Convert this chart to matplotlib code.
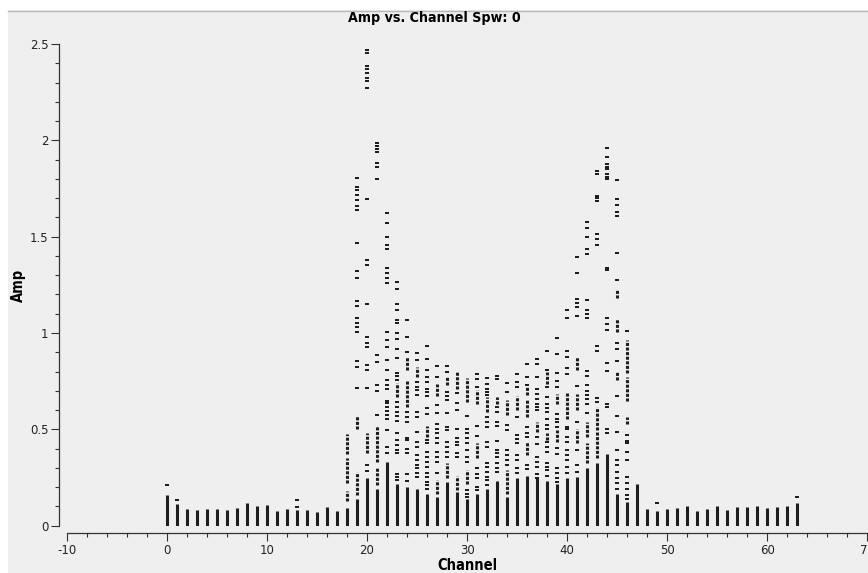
import matplotlib
matplotlib.use("Agg")  # headless backend
import matplotlib.pyplot as plt
from matplotlib.lines import Line2D
from matplotlib.patches import Rectangle
from matplotlib.ticker import MultipleLocator, FormatStrFormatter

plt.rcParams["axes.unicode_minus"] = False

# Channel axis
channels = list(range(64))

# Top of the solid (densely packed) column of amplitudes in every channel
solid_top = [
    0.158, 0.112, 0.086, 0.080, 0.086, 0.086, 0.080, 0.091, 0.120, 0.101,
    0.106, 0.075, 0.086, 0.080, 0.080, 0.070, 0.096, 0.075, 0.091, 0.136,
    0.245, 0.190, 0.330, 0.219, 0.202, 0.188, 0.167, 0.150, 0.228, 0.176,
    0.141, 0.167, 0.193, 0.233, 0.150, 0.250, 0.257, 0.245, 0.233, 0.219,
    0.250, 0.254, 0.302, 0.326, 0.370, 0.167, 0.124, 0.215, 0.087, 0.075,
    0.086, 0.091, 0.101, 0.075, 0.086, 0.101, 0.080, 0.096, 0.096, 0.101,
    0.091, 0.096, 0.101, 0.119,
]

# Amplitude ranges that are packed tightly but not solid (drawn as dashed runs)
dense_runs = {
    18: [(0.13, 0.18), (0.22, 0.35), (0.37, 0.475)],
    19: [(0.16, 0.28), (0.50, 0.57)],
    20: [(0.375, 0.48)],
    21: [(0.21, 0.30), (0.33, 0.52)],
    23: [(0.67, 0.74)],
    24: [(0.617, 0.755), (0.807, 0.877)],
    25: [(0.773, 0.825)],
    26: [(0.46, 0.52)],
    27: [(0.167, 0.236), (0.672, 0.738)],
    28: [(0.245, 0.323), (0.73, 0.773)],
    29: [(0.184, 0.257), (0.712, 0.80)],
    30: [(0.219, 0.288), (0.643, 0.764)],
    31: [(0.349, 0.427), (0.634, 0.703)],
    32: [(0.59, 0.669)],
    33: [(0.634, 0.669)],
    34: [(0.167, 0.288), (0.574, 0.652)],
    35: [(0.60, 0.672)],
    36: [(0.366, 0.435), (0.565, 0.652), (0.678, 0.72)],
    37: [(0.487, 0.54)],
    38: [(0.444, 0.479), (0.738, 0.799)],
    39: [(0.435, 0.496), (0.634, 0.686)],
    40: [(0.556, 0.695)],
    41: [(0.427, 0.504), (0.60, 0.686), (0.807, 0.873)],
    42: [(0.323, 0.427), (0.461, 0.54)],
    43: [(0.349, 0.484), (0.496, 0.617)],
    45: [(0.755, 0.804), (1.006, 1.071), (1.18, 1.226)],
    46: [(0.527, 0.565), (0.648, 0.773), (0.79, 0.966)],
}

# Isolated amplitudes above the solid column
scatter_amp = {
    0: [0.212],
    1: [0.132],
    13: [0.098, 0.132],
    19: [0.717, 0.825, 0.856, 1.006, 1.03, 1.05, 1.076, 1.14, 1.167, 1.284,
         1.32, 1.465, 1.641, 1.658, 1.69, 1.715, 1.74, 1.76, 1.803],
    20: [0.283, 0.314, 0.717, 0.807, 0.833, 0.925, 0.95, 0.98, 1.15, 1.353,
         1.379, 1.698, 2.27, 2.31, 2.322, 2.352, 2.369, 2.386, 2.451, 2.468],
    21: [0.574, 0.70, 0.73, 0.85, 0.885, 1.80, 1.864, 1.881, 1.941, 1.955,
         1.97, 1.984],
    22: [0.378, 0.41, 0.496, 0.556, 0.576, 0.596, 0.616, 0.636, 0.646, 0.707,
         0.73, 0.755, 0.81, 0.86, 0.93, 0.963, 1.006, 1.26, 1.284, 1.309,
         1.335, 1.434, 1.457, 1.50, 1.569, 1.624],
    23: [0.236, 0.255, 0.27, 0.378, 0.392, 0.418, 0.444, 0.482, 0.544, 0.568,
         0.59, 0.617, 0.643, 0.755, 0.775, 0.793, 0.868, 0.915, 0.967, 1.0,
         1.05, 1.07, 1.12, 1.15, 1.226, 1.266],
    24: [0.233, 0.27, 0.375, 0.40, 0.444, 0.453, 0.54, 0.565, 0.59, 0.903,
         0.977, 1.067],
    25: [0.254, 0.274, 0.297, 0.314, 0.34, 0.366, 0.41, 0.435, 0.484, 0.565,
         0.59, 0.678, 0.703, 0.72, 0.747, 0.86, 0.894],
    26: [0.193, 0.21, 0.228, 0.254, 0.274, 0.305, 0.331, 0.357, 0.384, 0.427,
         0.444, 0.58, 0.613, 0.672, 0.695, 0.712, 0.747, 0.773, 0.807, 0.863,
         0.932],
    27: [0.274, 0.331, 0.357, 0.384, 0.427, 0.453, 0.479, 0.504, 0.53, 0.586,
         0.629, 0.77, 0.828],
    28: [0.357, 0.384, 0.41, 0.435, 0.496, 0.513, 0.586, 0.652, 0.672, 0.695,
         0.799, 0.828],
    29: [0.357, 0.375, 0.418, 0.435, 0.453, 0.50, 0.603, 0.635, 0.69],
    30: [0.15, 0.167, 0.184, 0.331, 0.357, 0.392, 0.427, 0.453, 0.479, 0.504,
         0.568],
    31: [0.184, 0.202, 0.245, 0.27, 0.297, 0.465, 0.516, 0.72, 0.76, 0.787],
    32: [0.21, 0.236, 0.254, 0.28, 0.305, 0.326, 0.41, 0.435, 0.513, 0.54,
         0.565, 0.678, 0.695, 0.712, 0.738, 0.764],
    33: [0.28, 0.30, 0.326, 0.357, 0.375, 0.395, 0.44, 0.516, 0.54, 0.59,
         0.617, 0.76, 0.776],
    34: [0.314, 0.34, 0.366, 0.395, 0.496, 0.522, 0.695, 0.742],
    35: [0.271, 0.297, 0.34, 0.366, 0.427, 0.45, 0.47, 0.565, 0.72, 0.747,
         0.787],
    36: [0.292, 0.314, 0.461, 0.482, 0.513, 0.73, 0.773, 0.837],
    37: [0.25, 0.267, 0.305, 0.33, 0.354, 0.423, 0.461, 0.60, 0.617, 0.634,
         0.66, 0.686, 0.712, 0.773, 0.838, 0.863],
    38: [0.257, 0.288, 0.305, 0.323, 0.384, 0.41, 0.435, 0.504, 0.522, 0.556,
         0.59, 0.61, 0.631, 0.669, 0.72, 0.81, 0.907],
    39: [0.228, 0.25, 0.275, 0.297, 0.371, 0.401, 0.513, 0.54, 0.556, 0.579,
         0.72, 0.75, 0.79, 0.89, 0.972],
    40: [0.271, 0.305, 0.34, 0.365, 0.392, 0.435, 0.461, 0.50, 0.513, 0.787,
         0.821, 0.877, 0.907, 1.076, 1.12],
    41: [0.28, 0.314, 0.392, 0.54, 0.724, 1.088, 1.133, 1.155, 1.175, 1.31,
         1.396],
    42: [0.586, 0.634, 0.66, 0.68, 0.70, 0.73, 0.776, 0.804, 1.076, 1.10,
         1.122, 1.171, 1.41, 1.436, 1.496, 1.546, 1.578],
    43: [0.643, 0.665, 0.907, 0.932, 1.455, 1.486, 1.512, 1.685, 1.70, 1.712,
         1.825, 1.842],
    44: [0.482, 0.504, 0.617, 0.631, 0.802, 0.846, 1.015, 1.046, 1.076, 1.327,
         1.34, 1.797, 1.81, 1.825, 1.85, 1.862, 1.875, 1.913, 1.958],
    45: [0.193, 0.222, 0.245, 0.28, 0.314, 0.34, 0.395, 0.487, 0.568, 0.672,
         0.856, 0.915, 0.949, 1.275, 1.416, 1.607, 1.63, 1.664, 1.697, 1.792],
    46: [0.141, 0.158, 0.188, 0.222, 0.254, 0.34, 0.384, 0.427, 0.44, 0.47,
         1.011],
    49: [0.119],
    63: [0.15],
}

ink = "#1e1e1e"
panel = "#efefef"

fig = plt.figure(figsize=(8.68, 5.73), dpi=100, facecolor=panel)
# white margin along the top and left edges, thin rule under the top one
fig.patches.append(Rectangle((0, 1 - 10 / 573), 1, 10 / 573, transform=fig.transFigure,
                             facecolor="white", edgecolor="none", zorder=0))
fig.patches.append(Rectangle((0, 0), 8 / 868, 1, transform=fig.transFigure,
                             facecolor="white", edgecolor="none", zorder=0))
fig.lines.append(Line2D([8 / 868, 1], [1 - 10.5 / 573] * 2, transform=fig.transFigure,
                        color="#b8b8b8", lw=1.0))

ax = fig.add_axes([66.7 / 868, 47.3 / 573, 800.7 / 868, 481.7 / 573])
ax.set_facecolor(panel)

# solid columns
ax.vlines(channels, 0, solid_top, colors=ink, linewidth=2.2)

# dashed runs of packed points
run_x, run_lo, run_hi = [], [], []
for ch, runs in dense_runs.items():
    for lo, hi in runs:
        run_x.append(ch)
        run_lo.append(lo)
        run_hi.append(hi)
ax.vlines(run_x, run_lo, run_hi, colors=ink, linewidth=2.2,
          linestyles=[(0, (1.0, 0.5))])

# single points: 3x2 px dashes
dash = [(-1.5, -1), (1.5, -1), (1.5, 1), (-1.5, 1), (-1.5, -1)]
px, py = [], []
for ch, amps in scatter_amp.items():
    px.extend([ch] * len(amps))
    py.extend(amps)
ax.plot(px, py, linestyle="none", marker=dash, markersize=2.3,
        markeredgewidth=0, color=ink)

ax.set_xlim(-10, 70)
ax.set_ylim(0, 2.5)
for side in ("top", "right"):
    ax.spines[side].set_visible(False)
for side in ("left", "bottom"):
    ax.spines[side].set_position(("outward", 5.2))
    ax.spines[side].set_color("#333333")
    ax.spines[side].set_linewidth(0.9)

ax.xaxis.set_major_locator(MultipleLocator(10))
ax.xaxis.set_minor_locator(MultipleLocator(2))
ax.yaxis.set_major_locator(MultipleLocator(0.5))
ax.yaxis.set_minor_locator(MultipleLocator(0.1))
ax.yaxis.set_major_formatter(FormatStrFormatter("%g"))
ax.tick_params(which="major", length=5.5, width=0.8, color="#333333",
               labelsize=8.5, labelcolor="#222222", pad=2.5)
ax.tick_params(which="minor", length=3, width=0.8, color="#333333")

label_font = dict(fontweight="bold", fontstretch="condensed")
fig.text(0.5, 1 - 18 / 573, "Amp vs. Channel Spw: 0", ha="center", va="center",
         fontsize=10.2, **label_font)
fig.text(467 / 868, 1 - 565 / 573, "Channel", ha="center", va="center",
         fontsize=10.5, **label_font)
fig.text(18 / 868, 1 - 285 / 573, "Amp", ha="center", va="center", rotation=90,
         fontsize=10.5, **label_font)

fig.savefig("out.png", dpi=100, facecolor=fig.get_facecolor())
